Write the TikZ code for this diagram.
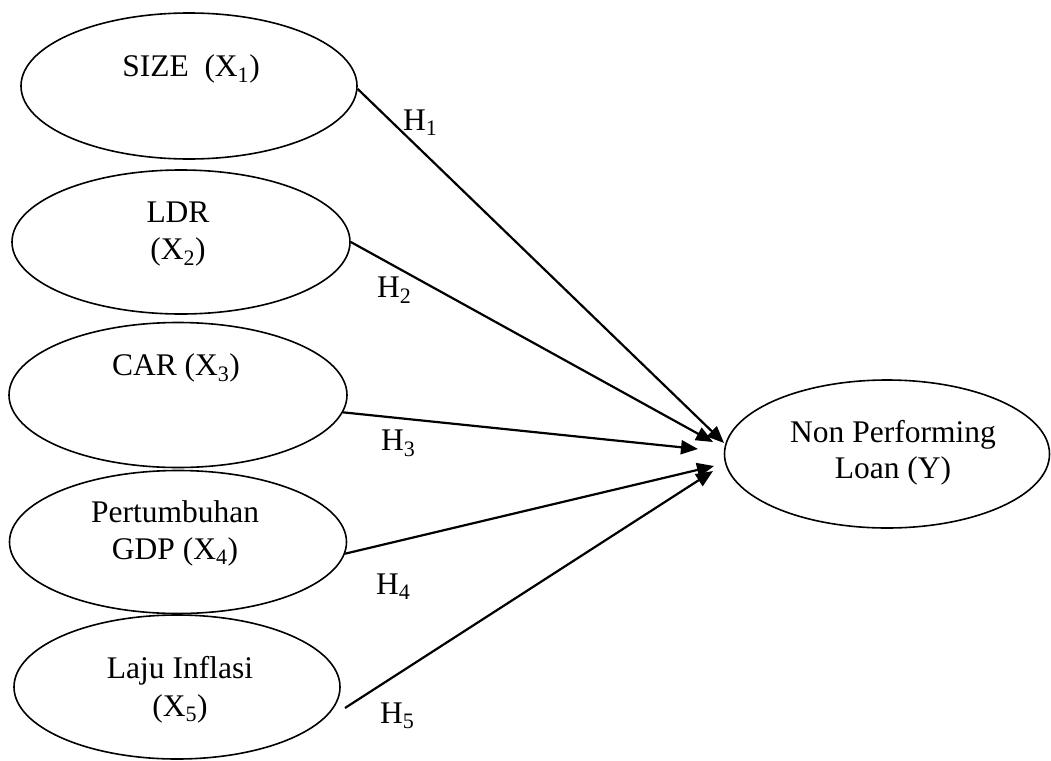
\documentclass[tikz,border=0pt]{standalone}
\usepackage{fontspec}
\setmainfont{Liberation Serif}
\usetikzlibrary{shapes.geometric,arrows.meta}
\begin{document}
\begin{tikzpicture}[x=1pt,y=-1pt,
  var/.style={ellipse,draw,line width=1.6pt,inner sep=0pt},
  lbl/.style={anchor=base,inner sep=0pt,font=\fontsize{31.5}{38}\selectfont},
  hyp/.style={anchor=base west,inner sep=0pt,font=\fontsize{31.5}{38}\selectfont},
  link/.style={line width=2.2pt,-{Triangle[length=17pt,width=14pt]}}]
\useasboundingbox (0,0) rectangle (1051,760);
% ellipses
\node[var,minimum width=336pt,minimum height=146pt] (e1) at (189,86) {};
\node[var,minimum width=338pt,minimum height=144pt] (e2) at (181,242) {};
\node[var,minimum width=338pt,minimum height=145pt] (e3) at (178,395) {};
\node[var,minimum width=337pt,minimum height=143pt] (e4) at (178,542) {};
\node[var,minimum width=326pt,minimum height=144pt] (e5) at (177,687) {};
\node[var,minimum width=325pt,minimum height=148pt] (ey) at (887,454) {};
% texts
\node[lbl] (t1) at (191,77) {SIZE\ \ (X\textsubscript{1})};
\node[lbl] (t2a) at (178,222) {LDR};
\node[lbl] (t2b) at (178,259) {(X\textsubscript{2})};
\node[lbl] (t3) at (176,375) {CAR (X\textsubscript{3})};
\node[lbl] (t4a) at (175,522) {Pertumbuhan};
\node[lbl] (t4b) at (175,559) {GDP (X\textsubscript{4})};
\node[lbl] (t5a) at (180,678) {Laju Inflasi};
\node[lbl] (t5b) at (180,716) {(X\textsubscript{5})};
\node[lbl] (ty1) at (893,442) {Non Performing};
\node[lbl] (ty2) at (893,478) {Loan (Y)};
% arrow tips
\coordinate (p1) at (724,443);
\coordinate (p2) at (713,442);
\coordinate (p3) at (698,449);
\coordinate (p4) at (714,466);
\coordinate (p5) at (713,471);
\coordinate (s5) at (345,708);
% connectors
\draw[link] (e1.-1) -- (p1);
\draw[link] (e2.east) -- (p2);
\draw[link] (e3.-6) -- (p3);
\draw[link] (e4.-4) -- (p4);
\draw[link] (s5) -- (p5);
% hypothesis labels
\node[hyp] (h1) at (403,130) {H\textsubscript{1}};
\node[hyp] (h2) at (377,297) {H\textsubscript{2}};
\node[hyp] (h3) at (381,450) {H\textsubscript{3}};
\node[hyp] (h4) at (376,594) {H\textsubscript{4}};
\node[hyp] (h5) at (380,723) {H\textsubscript{5}};
\end{tikzpicture}
\end{document}
